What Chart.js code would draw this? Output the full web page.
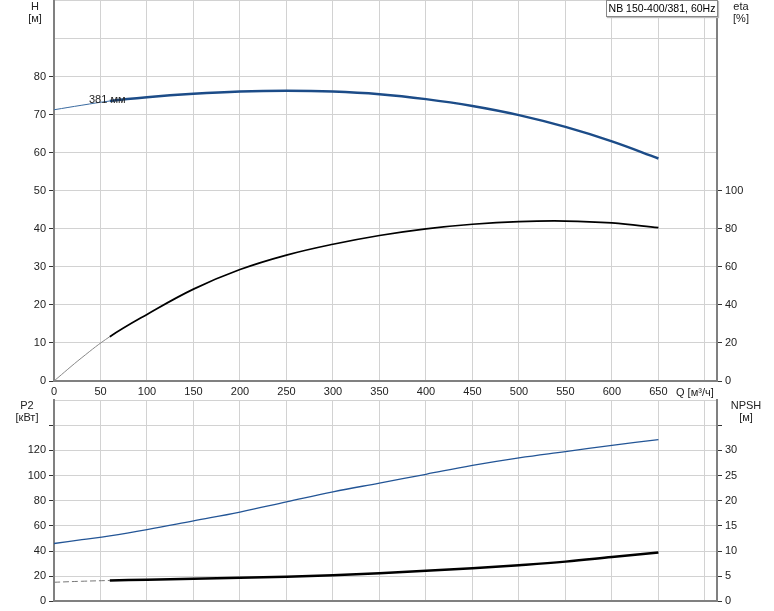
<!DOCTYPE html>
<html lang="ru">
<head>
<meta charset="UTF-8" />
<title>NB 150-400/381, 60Hz</title>
<script src="https://cdn.jsdelivr.net/npm/chart.js@4/dist/chart.umd.min.js"></script>
<style>
  body { margin: 0; background: #fff; font-family: "Liberation Sans", Arial, sans-serif; }
  #wrap { position: relative; width: 774px; height: 611px; overflow: hidden; }
  canvas { position: absolute; left: 0; }
  .t { position: absolute; font-size: 11px; color: #222; line-height: 12px; text-align: center; white-space: nowrap; }
  #legend { position: absolute; left: 606px; top: 0; width: 110px; height: 15px; background: #fff;
    border: 1px solid #888; box-shadow: 1px 1px 1px #bbb; font-size: 10.5px; line-height: 15px;
    text-align: center; white-space: nowrap; overflow: hidden; }
</style>
</head>
<body>
<div id="wrap">
  <canvas id="top" width="774" height="620" style="top:-9px"></canvas>
  <canvas id="bottom" width="774" height="611" style="top:0"></canvas>
  <div class="t" style="left:22px;top:0px;width:26px">H<br>[м]</div>
  <div class="t" style="left:728px;top:0px;width:26px">eta<br>[%]</div>
  <div class="t" style="left:12px;top:399px;width:30px">P2<br>[кВт]</div>
  <div class="t" style="left:730px;top:399px;width:32px">NPSH<br>[м]</div>
  <div class="t" style="left:676px;top:386px">Q [м³/ч]</div>
  <div class="t" style="left:89px;top:93px">381 мм</div>
  <div id="legend">NB 150-400/381, 60Hz</div>
</div>
<script>
// flow rate, m3/h
const q = [0, 30, 60, 100, 150, 200, 250, 300, 350, 400, 450, 500, 550, 600, 650];
// head H, m
const head = [71.3, 72.5, 73.6, 74.6, 75.5, 76.1, 76.3, 76.1, 75.4, 74.1, 72.3, 69.9, 66.8, 63.0, 58.5];
// efficiency eta, %
const eta = [0, 12.3, 23.3, 35.0, 48.3, 58.6, 66.2, 71.9, 76.5, 80.0, 82.4, 83.8, 84.1, 83.1, 80.6];
// power P2, kW
const p2 = [46, 49, 52, 57, 64, 71, 79, 87, 94, 101, 108, 114, 119, 124, 128.5];
// NPSH, m
const npsh = [3.8, 4.0, 4.15, 4.3, 4.5, 4.7, 4.9, 5.2, 5.6, 6.1, 6.6, 7.2, 7.9, 8.8, 9.7];

const xTicks = [0, 50, 100, 150, 200, 250, 300, 350, 400, 450, 500, 550, 600, 650];

const pts = (ys) => q.map((x, i) => ({ x: x, y: ys[i] }));
const GRID = '#d2d2d2', AXIS = '#808080', TXT = '#222';
const font = { family: '"Liberation Sans", Arial, sans-serif', size: 11 };

function line(data, axis, color, thin, thick, thinColor, dash) {
  return {
    data: data, yAxisID: axis, borderColor: color, borderWidth: thick,
    pointRadius: 0, tension: 0.4, fill: false,
    segment: {
      borderWidth: c => c.p0.parsed.x < 60 ? thin : thick,
      borderColor: c => c.p0.parsed.x < 60 ? thinColor : color,
      borderDash: c => (dash && c.p0.parsed.x < 60) ? [6, 3] : undefined
    }
  };
}

function xScale(showLabels, h) {
  return {
    type: 'linear', min: 0, max: 713,
    afterBuildTicks: s => { s.ticks = xTicks.concat([700]).map(v => ({ value: v })); },
    ticks: { display: showLabels, font: font, color: TXT, padding: 4, maxRotation: 0,
      callback: v => xTicks.includes(v) ? v : '' },
    grid: { color: GRID, drawTicks: false },
    border: { color: AXIS, width: 2 },
    afterFit: s => { s.height = h; }
  };
}

function yScale(pos, max, step, labelMax, tickMax, onArea, w) {
  return {
    type: 'linear', position: pos, min: 0, max: max,
    ticks: { stepSize: step, font: font, color: TXT, padding: 3,
      callback: v => v <= labelMax ? v : '' },
    grid: { color: GRID, drawOnChartArea: onArea, tickLength: 5,
      tickColor: c => (c.tick && c.tick.value <= tickMax) ? '#333' : 'rgba(0,0,0,0)' },
    border: { color: AXIS, width: 2 },
    afterFit: s => { s.width = w; }
  };
}

const common = {
  responsive: false, animation: false,
  plugins: { legend: { display: false }, tooltip: { enabled: false } }
};

new Chart(document.getElementById('top'), {
  type: 'line',
  data: { datasets: [
    line(pts(head), 'y', '#1c4c88', 1, 2.5, '#3a6aa0', false),
    line(pts(eta), 'y2', '#000', 1, 1.7, '#888', false)
  ] },
  options: Object.assign({}, common, {
    layout: { padding: { top: 1, bottom: 211, left: 0, right: 0 } },
    scales: {
      x: xScale(true, 19),
      y: yScale('left', 100, 10, 80, 80, true, 54),
      y2: yScale('right', 200, 20, 100, 100, false, 57)
    }
  })
});

new Chart(document.getElementById('bottom'), {
  type: 'line',
  data: { datasets: [
    line(pts(p2), 'y', '#235596', 1.3, 1.3, '#235596', false),
    line(pts(npsh), 'y2', '#000', 1, 2.5, '#777', true)
  ] },
  options: Object.assign({}, common, {
    layout: { padding: { top: 400, bottom: 0, left: 0, right: 0 } },
    scales: {
      x: xScale(false, 9),
      y: yScale('left', 160, 20, 120, 140, true, 54),
      y2: yScale('right', 40, 5, 30, 35, false, 57)
    }
  })
});
</script>
</body>
</html>
